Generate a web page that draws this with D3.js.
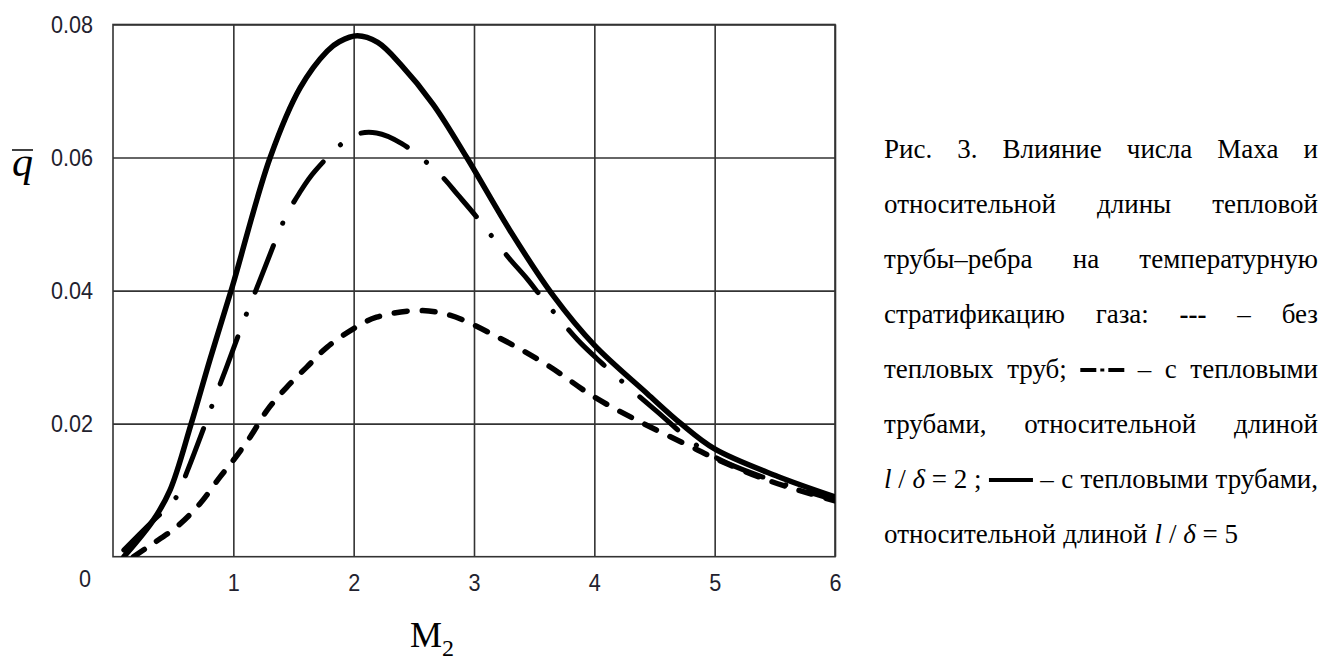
<!DOCTYPE html>
<html>
<head>
<meta charset="utf-8">
<script src="https://cdn.jsdelivr.net/npm/d3@7"></script>
<style>
  html, body { margin: 0; padding: 0; background: #fff; }
  svg { display: block; }
</style>
</head>
<body>
<svg id="chart" width="1320" height="658"></svg>
<script>
// ---- data ----
const xTicks = [1, 2, 3, 4, 5, 6];
const yTicks = [0.02, 0.04, 0.06, 0.08];

// solid: heat pipes, l/δ = 5
const mSolid = [0.09, 0.335, 0.474, 0.65, 0.807, 0.99, 1.306, 1.556, 1.78, 1.88, 2.03, 2.2, 2.39, 2.66, 2.94, 3.3, 3.66, 4.0, 4.44, 4.72, 5.0, 5.52, 6.0];
const qSolid = [0, 0.0055, 0.0100, 0.0200, 0.0297, 0.0405, 0.0600, 0.0705, 0.0760, 0.0774, 0.0783, 0.0773, 0.0740, 0.0680, 0.0600, 0.0490, 0.0392, 0.0318, 0.0245, 0.0200, 0.0162, 0.0121, 0.0090];

// dash-dot: heat pipes, l/δ = 2
const mDashDot = [0.09, 0.31, 0.524, 0.618, 0.774, 0.855, 0.94, 1.09, 1.18, 1.265, 1.43, 1.547, 1.68, 2.0, 2.19, 2.40, 2.72, 2.87, 3.025, 3.29, 3.44, 3.58, 3.86, 4.02, 4.19, 4.49, 5.0, 6.0];
const qDashDot = [0.001, 0.005, 0.0089, 0.0129, 0.0203, 0.0243, 0.0283, 0.0356, 0.0397, 0.0436, 0.0509, 0.0546, 0.058, 0.0633, 0.0637, 0.0621, 0.0574, 0.0543, 0.051, 0.0449, 0.0418, 0.0386, 0.0326, 0.0298, 0.027, 0.0223, 0.015, 0.0085];

// dashed: without heat pipes
const mDashed = [0.17, 0.31, 0.53, 0.724, 0.89, 1.0, 1.14, 1.28, 1.445, 1.61, 1.78, 2.0, 2.19, 2.53, 2.8, 3.22, 3.61, 4.0, 4.41, 4.83, 5.0, 5.44, 6.0];
const qDashed = [0, 0.0017, 0.0045, 0.008, 0.012, 0.0145, 0.018, 0.022, 0.0255, 0.0285, 0.0315, 0.0343, 0.036, 0.037, 0.0363, 0.0328, 0.0288, 0.024, 0.02, 0.0163, 0.0148, 0.0115, 0.0084];

// caption lines (justified)
const captionLines = [
  ["Рис.", "3.", "Влияние", "числа", "Маха", "и"],
  ["относительной", "длины", "тепловой"],
  ["трубы–ребра", "на", "температурную"],
  ["стратификацию", "газа:", "@dash", "–", "без"],
  ["тепловых", "труб;", "@dashdot", "–", "с", "тепловыми"],
  ["трубами,", "относительной", "длиной"],
  ["@ld2", "@solid", "–", "с", "тепловыми", "трубами,"],
  ["относительной", "длиной", "@ld5"]
];

// ---- layout ----
const svg = d3.select("#chart");
const X0 = 113, X1 = 835, Y0 = 24.5, Y1 = 556.7;
const x = d3.scaleLinear().domain([0, 6]).range([X0, X1]);
const y = d3.scaleLinear().domain([0, 0.08]).range([Y1, Y0]);
const gridColor = "#333";
const tickFont = "'Liberation Sans', Arial, sans-serif";
const tickFS = 24;
const tickColor = "#22222e";

function narrow(sel) {
  sel.each(function () {
    const w = this.getComputedTextLength();
    d3.select(this).attr("textLength", w * 0.9).attr("lengthAdjust", "spacingAndGlyphs");
  });
}

// grid + axes
const gx = svg.append("g").attr("transform", `translate(0,${Y1})`)
  .call(d3.axisBottom(x).tickValues(xTicks).tickFormat(d3.format("d"))
    .tickSizeInner(-(Y1 - Y0)).tickSizeOuter(0).tickPadding(17));
const gy = svg.append("g").attr("transform", `translate(${X0},0)`)
  .call(d3.axisLeft(y).tickValues(yTicks).tickFormat(d3.format(".2f"))
    .tickSizeInner(-(X1 - X0)).tickSizeOuter(0).tickPadding(20));
[gx, gy].forEach(g => {
  g.select(".domain").remove();
  g.selectAll(".tick line").attr("stroke", gridColor).attr("stroke-width", 1.6);
  g.selectAll(".tick text").attr("fill", tickColor).attr("font-family", tickFont).attr("font-size", tickFS).call(narrow);
});
svg.append("text").attr("x", 85).attr("y", 587).attr("text-anchor", "middle")
  .attr("font-family", tickFont).attr("font-size", tickFS).attr("fill", tickColor).text("0").call(narrow);

svg.append("rect").attr("x", X0).attr("y", Y0).attr("width", X1 - X0).attr("height", Y1 - Y0)
  .attr("fill", "none").attr("stroke", gridColor).attr("stroke-width", 1.6);

// axis titles
const serif = "'Liberation Serif', 'Times New Roman', serif";
svg.append("text").attr("x", 12).attr("y", 176).attr("font-family", serif)
  .attr("font-style", "italic").attr("font-size", 42).attr("fill", "#000").text("q");
svg.append("line").attr("x1", 12).attr("x2", 33).attr("y1", 150).attr("y2", 150)
  .attr("stroke", "#000").attr("stroke-width", 1.5);
const mt = svg.append("text").attr("x", 410).attr("y", 647).attr("font-family", serif)
  .attr("font-size", 36).attr("fill", "#000");
mt.append("tspan").text("M");
mt.append("tspan").attr("font-size", 24).attr("dy", 9).text("2");

// curves
const line = d3.line().x(d => x(d[0])).y(d => y(d[1])).curve(d3.curveCatmullRom.alpha(0.5));
const clipId = "plotclip";
svg.append("clipPath").attr("id", clipId).append("rect")
  .attr("x", X0).attr("y", Y0 - 5).attr("width", X1 - X0).attr("height", Y1 - Y0 + 5);
const curves = svg.append("g").attr("clip-path", `url(#${clipId})`);

curves.append("path").datum(d3.zip(mDashed, qDashed)).attr("d", line)
  .attr("fill", "none").attr("stroke", "#000").attr("stroke-width", 5.5)
  .attr("stroke-linecap", "round").attr("stroke-dasharray", "13 15");
curves.append("path").datum(d3.zip(mDashDot, qDashDot)).attr("d", line)
  .attr("fill", "none").attr("stroke", "#000").attr("stroke-width", 5)
  .attr("stroke-linecap", "round").attr("stroke-dasharray", "50 24 0.1 24");
curves.append("path").datum(d3.zip(mSolid, qSolid)).attr("d", line)
  .attr("fill", "none").attr("stroke", "#000").attr("stroke-width", 5.5)
  .attr("stroke-linecap", "round");

// caption
const capX0 = 884, capX1 = 1318, capFS = 27, capY0 = 158, capDY = 55;
const cap = svg.append("g").attr("font-family", serif).attr("font-size", capFS).attr("fill", "#000");

function makeToken(g, tok) {
  if (tok === "@dash") {
    const t = g.append("text").attr("font-weight", "bold").text("---");
    return { node: t, w: t.node().getComputedTextLength(), kind: "text" };
  }
  if (tok === "@dashdot") {
    const s = g.append("g");
    s.append("line").attr("x1", 0).attr("x2", 16).attr("y1", -8).attr("y2", -8).attr("stroke", "#000").attr("stroke-width", 4);
    s.append("line").attr("x1", 20).attr("x2", 24).attr("y1", -8).attr("y2", -8).attr("stroke", "#000").attr("stroke-width", 3);
    s.append("line").attr("x1", 28).attr("x2", 44).attr("y1", -8).attr("y2", -8).attr("stroke", "#000").attr("stroke-width", 4);
    return { node: s, w: 44, kind: "g" };
  }
  if (tok === "@solid") {
    const s = g.append("g");
    s.append("line").attr("x1", 0).attr("x2", 44).attr("y1", -8).attr("y2", -8).attr("stroke", "#000").attr("stroke-width", 4);
    return { node: s, w: 44, kind: "g" };
  }
  if (tok === "@ld2" || tok === "@ld5") {
    const t = g.append("text");
    t.append("tspan").attr("font-style", "italic").text("l");
    t.append("tspan").text(" / ");
    t.append("tspan").attr("font-style", "italic").text("δ");
    t.append("tspan").text(" = " + (tok === "@ld2" ? "2 ;" : "5"));
    return { node: t, w: t.node().getComputedTextLength(), kind: "text" };
  }
  const t = g.append("text").text(tok);
  return { node: t, w: t.node().getComputedTextLength(), kind: "text" };
}

captionLines.forEach((words, i) => {
  const g = cap.append("g").attr("transform", `translate(0,${capY0 + i * capDY})`);
  const toks = words.map(w => makeToken(g, w));
  const total = d3.sum(toks, t => t.w);
  const last = i === captionLines.length - 1;
  const gap = last ? capFS * 0.27 : (capX1 - capX0 - total) / (toks.length - 1);
  let cx = capX0;
  toks.forEach(t => {
    if (t.kind === "text") t.node.attr("x", cx);
    else t.node.attr("transform", `translate(${cx},0)`);
    cx += t.w + gap;
  });
});
</script>
</body>
</html>
